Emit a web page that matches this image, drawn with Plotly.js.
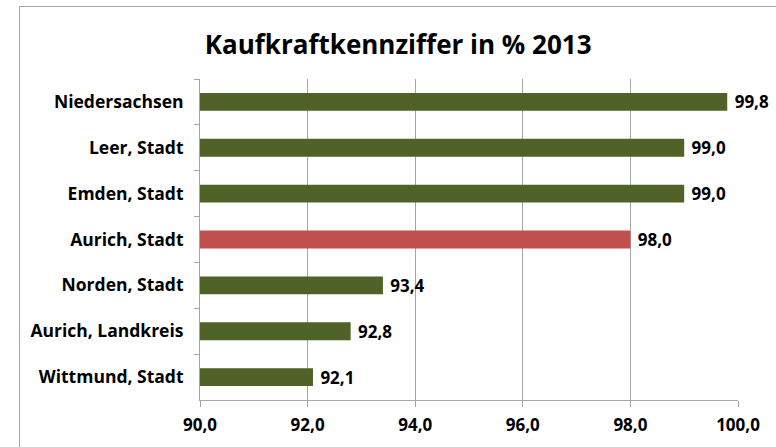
<!DOCTYPE html>
<html>
<head>
<meta charset="utf-8">
<script src="https://cdn.plot.ly/plotly-3.0.1.min.js"></script>
<style>
html,body{margin:0;padding:0;background:#fff;}
#chart{width:776px;height:447px;}
</style>
</head>
<body>
<div id="chart"></div>
<script>
const categories = ["Niedersachsen", "Leer, Stadt", "Emden, Stadt", "Aurich, Stadt", "Norden, Stadt", "Aurich, Landkreis", "Wittmund, Stadt"];
const values = [99.8, 99.0, 99.0, 98.0, 93.4, 92.8, 92.1];
const barColors = ["#4F6228", "#4F6228", "#4F6228", "#C0504D", "#4F6228", "#4F6228", "#4F6228"];
const xTicks = [90, 92, 94, 96, 98, 100];
const xTickLabels = ["90,0", "92,0", "94,0", "96,0", "98,0", "100,0"];
const titleText = "Kaufkraftkennziffer in % 2013";

const font = "'Open Sans', Lato, sans-serif";
const W = 776, H = 447;
const m = {l: 200, r: 38, t: 79, b: 47};
const pw = W - m.l - m.r, ph = H - m.t - m.b;
const px = v => (v - m.l) / pw;
const py = v => 1 - (v - m.t) / ph;

const trace = {
  type: "bar",
  orientation: "h",
  y: categories,
  x: values,
  base: 0,
  width: 0.39,
  marker: {color: barColors, line: {width: 0}},
  text: values.map(v => v.toFixed(1).replace(".", ",")),
  texttemplate: " %{text}",
  textposition: "outside",
  constraintext: "none",
  textfont: {family: font, size: 17, color: "#000", weight: "bold"},
  cliponaxis: false,
  hoverinfo: "skip"
};

const layout = {
  width: W, height: H,
  margin: m,
  paper_bgcolor: "#fff",
  plot_bgcolor: "#fff",
  separators: ",.",
  showlegend: false,
  title: {text: "<b>" + titleText + "</b>", x: 0.513, xanchor: "center", y: 0.9, yanchor: "middle",
          font: {family: font, size: 26, color: "#000"}},
  xaxis: {
    range: [90, 100],
    tickvals: xTicks, ticktext: xTickLabels,
    showgrid: true, gridcolor: "#a6a6a6", gridwidth: 1,
    showline: true, linecolor: "#a6a6a6", linewidth: 1,
    ticks: "outside", ticklen: 6, tickcolor: "#a6a6a6",
    ticklabelstandoff: 4,
    tickfont: {family: font, size: 17, color: "#000", weight: "bold"},
    zeroline: false, fixedrange: true
  },
  yaxis: {
    type: "category",
    autorange: "reversed",
    showgrid: false,
    showline: true, linecolor: "#a6a6a6", linewidth: 1,
    ticks: "outside", ticklen: 5, tickcolor: "#a6a6a6",
    tickson: "boundaries",
    ticklabelstandoff: 12,
    tickfont: {family: font, size: 17.5, color: "#000", weight: "bold"},
    fixedrange: true
  },
  shapes: [{
    type: "rect", xref: "paper", yref: "paper",
    x0: px(19.5), x1: px(800), y0: py(470), y1: py(6.5),
    line: {color: "#a6a6a6", width: 1}, fillcolor: "rgba(0,0,0,0)", layer: "below"
  }]
};

Plotly.newPlot("chart", [trace], layout, {displayModeBar: false, staticPlot: true});
</script>
</body>
</html>
